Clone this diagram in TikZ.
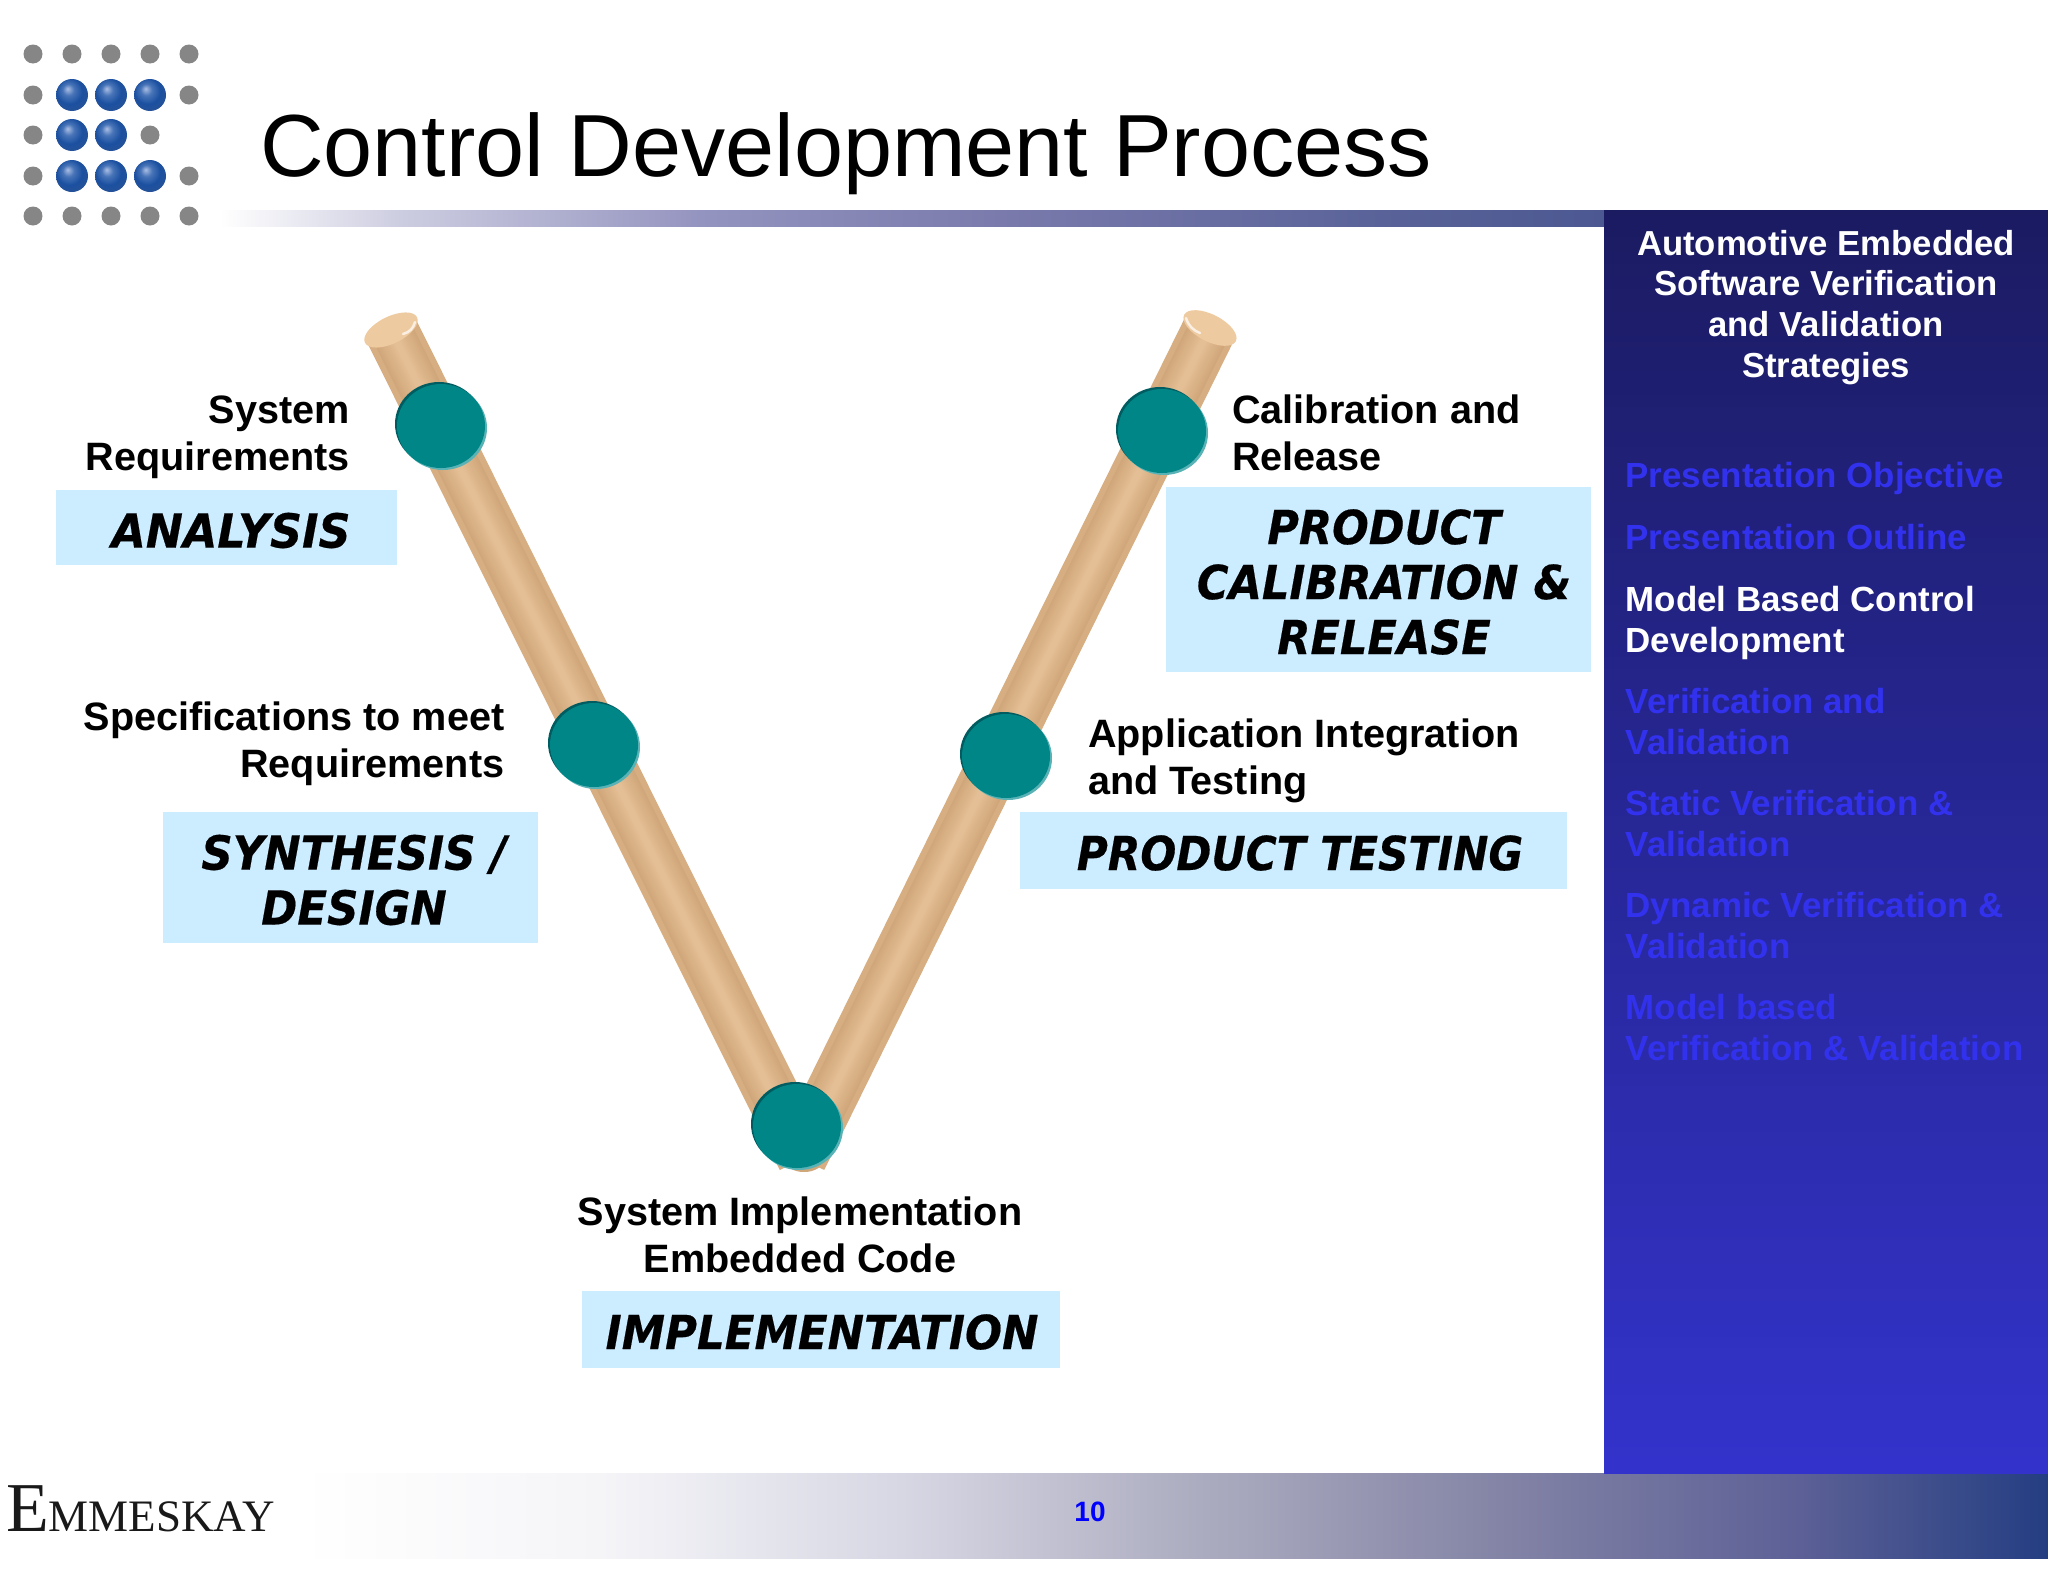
\documentclass[tikz,border=0pt]{standalone}
\usepackage{fontspec}
\setmainfont{Liberation Sans}
\newfontfamily\boxfont[BoldItalicFeatures={FakeBold=0.4}]{DejaVu Sans Condensed}
\newfontfamily\logofont{Liberation Serif}
\usetikzlibrary{shapes.geometric}
\definecolor{boxblue}{RGB}{204,236,255}
\definecolor{itemblue}{RGB}{50,50,238}
\definecolor{rodlight}{RGB}{228,190,148}
\definecolor{roddark}{RGB}{208,167,122}
\definecolor{rodcap}{RGB}{238,202,160}
\definecolor{teal1}{RGB}{0,134,134}
\definecolor{tealdark}{RGB}{0,92,96}
\definecolor{teallight}{RGB}{88,178,182}
\definecolor{sidetop}{RGB}{27,27,98}
\definecolor{sidebot}{RGB}{51,51,204}
\definecolor{ballhi}{RGB}{170,190,228}
\definecolor{ballmid}{RGB}{72,116,184}
\definecolor{ballbase}{RGB}{27,80,160}
\definecolor{balledge}{RGB}{40,82,150}
\definecolor{ta}{RGB}{255,255,255}
\definecolor{tb}{RGB}{205,205,225}
\definecolor{tc}{RGB}{148,148,192}
\definecolor{td}{RGB}{122,122,172}
\definecolor{te}{RGB}{88,98,152}
\definecolor{tf}{RGB}{76,88,146}
\definecolor{fa}{RGB}{255,255,255}
\definecolor{fb}{RGB}{245,245,248}
\definecolor{fc}{RGB}{215,215,228}
\definecolor{fd}{RGB}{172,172,192}
\definecolor{fe}{RGB}{132,132,166}
\definecolor{ff}{RGB}{92,96,150}
\definecolor{fg}{RGB}{36,62,130}
\pgfdeclarehorizontalshading{topgrad}{100bp}{
  color(0bp)=(ta); color(25bp)=(ta); color(31.5bp)=(tb); color(42.3bp)=(tc);
  color(53.2bp)=(td); color(67.6bp)=(te); color(75bp)=(tf); color(100bp)=(tf)}
\pgfdeclarehorizontalshading{footgrad}{100bp}{
  color(0bp)=(fa); color(25bp)=(fa); color(33.6bp)=(fb); color(42.2bp)=(fc);
  color(50.7bp)=(fd); color(59.3bp)=(fe); color(67.9bp)=(ff); color(75bp)=(fg); color(100bp)=(fg)}
\pgfdeclareradialshading{ballsh}{\pgfpoint{-7bp}{10bp}}{
  color(0bp)=(ballhi); color(9bp)=(ballmid); color(20bp)=(ballbase); color(32bp)=(balledge); color(50bp)=(balledge)}
\tikzset{
  lbl/.style={font=\fontsize{39.6}{47}\selectfont\bfseries,text=black,inner sep=0pt,align=#1},
  phasebox/.style={fill=boxblue,inner sep=0pt},
  phasetext/.style={inner sep=0pt,font=\fontsize{47}{55}\selectfont\boxfont\bfseries\itshape,align=center,text=black},
  sidehead/.style={font=\fontsize{34.7}{40.6}\selectfont\bfseries,text=white,align=center,inner sep=0pt},
  item/.style={font=\fontsize{34.9}{40.8}\selectfont\bfseries,text=itemblue,align=left,anchor=north west,inner sep=0pt},
  graydot/.style={circle,fill=gray!95,minimum size=19pt,inner sep=0pt},
  blueball/.style={circle,shading=ballsh,minimum size=32pt,inner sep=0pt},
  discmain/.style={ellipse,fill=teal1,minimum width=88pt,minimum height=84pt,inner sep=0pt},
  discdark/.style={ellipse,fill=tealdark,minimum width=88pt,minimum height=84pt,inner sep=0pt},
  disclight/.style={ellipse,fill=teallight,minimum width=88pt,minimum height=84pt,inner sep=0pt},
  capstyle/.style={ellipse,fill=rodcap,minimum width=58pt,minimum height=27pt,inner sep=0pt},
  caphi/.style={color=white!70!rodcap,line width=2.5pt,line cap=round},
}
\begin{document}
\begin{tikzpicture}[x=1pt,y=-1pt]
\useasboundingbox (0,0) rectangle (2048,1582);
\fill[white] (0,0) rectangle (2048,1582);
% bars and sidebar
\shade[shading=topgrad] (220,210) rectangle (1604,226);
\shade[shading=footgrad] (300,1473) rectangle (2048,1558);
\shade[top color=sidetop,bottom color=sidebot] (1604,210) rectangle (2048,1473);
% logo
\foreach \x/\y [count=\i] in {33/54,72/54,111/54,150/54,189/54,33/95,189/95,33/135,150/135,33/176,189/176,33/216,72/216,111/216,150/216,189/216}
  \node[graydot] (gd\i) at (\x,\y) {};
\foreach \x/\y [count=\i] in {72/95,111/95,150/95,72/135,111/135,72/176,111/176,150/176}
  \node[blueball] (bb\i) at (\x,\y) {};
% title
\node[anchor=base west,inner sep=0pt,font=\fontsize{88.2}{88}\selectfont,text=black] (title) at (260,176) {Control Development Process};
% V rods
\coordinate (ltop) at (391,330);
\coordinate (lbot) at (804,1158);
\coordinate (rtop) at (1210,328);
\coordinate (rbot) at (800,1158);
\node[ellipse,fill=roddark,minimum width=40pt,minimum height=26pt,inner sep=0pt] (tip) at (804,1159) {};
\draw[line width=54pt,color=roddark!70!rodlight] (ltop) -- (lbot);
\draw[line width=54pt,color=roddark!70!rodlight] (rtop) -- (rbot);
\foreach \n in {0,...,12}{
  \pgfmathsetmacro\wd{42-3*\n}
  \pgfmathsetmacro\mx{\n*8.3}
  \draw[line width=\wd pt,color=rodlight!\mx!roddark,xshift=7pt] (ltop) -- (lbot);
  \draw[line width=\wd pt,color=rodlight!\mx!roddark,xshift=-7pt] (rtop) -- (rbot);
}
\node[capstyle,rotate=26] (lcap) at (ltop) {};
\node[capstyle,rotate=-27] (rcap) at (rtop) {};
\coordinate (lh1) at (403,334);
\coordinate (lh2) at (415,322);
\coordinate (rh1) at (1186,318);
\coordinate (rh2) at (1200,333);
\draw[caphi] (lh1) to[bend right=30] (lh2);
\draw[caphi] (rh1) to[bend right=25] (rh2);
% discs
\foreach \x/\y/\nm in {441/426/da,594/745/db,1162/431/de,1006/756/dd,797/1126/dc}{
  \node[disclight] (\nm l) at (\x+2,\y+2) {};
  \node[discdark] (\nm k) at (\x-2,\y-2) {};
  \node[discmain] (\nm) at (\x,\y) {};
}
% phase boxes
\node[phasebox,minimum width=341pt,minimum height=75pt] (analysis) at (226.5,527.5) {};
\node[phasebox,minimum width=425pt,minimum height=185pt] (prodcal) at (1378.5,579.5) {};
\node[phasebox,minimum width=375pt,minimum height=131pt] (synth) at (350.5,877.5) {};
\node[phasebox,minimum width=547pt,minimum height=77pt] (prodtest) at (1293.5,850.5) {};
\node[phasebox,minimum width=478pt,minimum height=77pt] (impl) at (821,1329.5) {};
\node[phasetext,xscale=1.05] (analysist) at (231,530.5) {ANALYSIS};
\node[phasetext,xscale=1.02] (prodcalt) at (1384,582) {PRODUCT\\CALIBRATION \&\\RELEASE};
\node[phasetext,xscale=1.03] (syntht) at (354,880) {SYNTHESIS /\\DESIGN};
\node[phasetext] (prodtestt) at (1300,853) {PRODUCT TESTING};
\node[phasetext,xscale=1.03] (implt) at (822,1332) {IMPLEMENTATION};
% labels
\node[lbl=right,anchor=north east] (l1) at (350,395.5) {System\\Requirements};
\node[lbl=right,anchor=north east] (l2) at (504.5,702) {Specifications to meet\\Requirements};
\node[lbl=left,anchor=north west] (l3) at (1232,395) {Calibration and\\Release};
\node[lbl=left,anchor=north west] (l4) at (1088,718.5) {Application Integration\\and Testing};
\node[lbl=center,anchor=north] (l5) at (800,1196.5) {System Implementation\\Embedded Code};
% sidebar text
\node[sidehead,anchor=north] (sh) at (1826,230) {Automotive Embedded\\Software Verification\\and Validation\\Strategies};
\node[item] (s1) at (1625.5,462.5) {Presentation Objective};
\node[item] (s2) at (1625.5,524) {Presentation Outline};
\node[item,text=white] (s3) at (1625.5,586) {Model Based Control\\Development};
\node[item] (s4) at (1625.5,688) {Verification and\\Validation};
\node[item] (s5) at (1625.5,790) {Static Verification \&\\Validation};
\node[item] (s6) at (1625.5,892) {Dynamic Verification \&\\Validation};
\node[item] (s7) at (1625.5,994) {Model based\\Verification \& Validation};
% footer
\node[anchor=base west,inner sep=0pt,text=black!90,font=\logofont] (logo) at (6,1531) {\fontsize{70}{70}\selectfont E\fontsize{45}{45}\selectfont MMESKAY};
\node[inner sep=0pt,font=\fontsize{28}{28}\selectfont\bfseries,text=blue] (pageno) at (1090,1512) {10};
\end{tikzpicture}
\end{document}
